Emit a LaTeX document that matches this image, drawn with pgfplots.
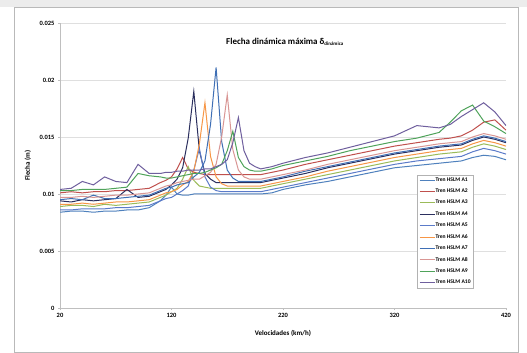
\documentclass[border=0pt]{standalone}
\usepackage{fontspec}
\setmainfont{Carlito}
\usepackage{pgfplots}
\usepackage{pgfplotstable}
\pgfplotsset{compat=1.18}
\definecolor{cA1}{HTML}{4F81BD}
\definecolor{cA2}{HTML}{C0504D}
\definecolor{cA3}{HTML}{9BBB59}
\definecolor{cA4}{HTML}{2B2F5E}
\definecolor{cA5}{HTML}{5B7BC9}
\definecolor{cA6}{HTML}{F79646}
\definecolor{cA7}{HTML}{3F6FB5}
\definecolor{cA8}{HTML}{D99694}
\definecolor{cA9}{HTML}{4FA35A}
\definecolor{cA10}{HTML}{6F5F9E}
\pgfplotstableread{
v A1 A2 A3 A4 A5 A6 A7 A8 A9 A10
20 0.0084 0.0101 0.0089 0.0094 0.0086 0.0091 0.0095 0.0097 0.0103 0.0104
30 0.0085 0.0102 0.0090 0.0093 0.0086 0.0091 0.0096 0.0097 0.0103 0.0105
40 0.0085 0.0101 0.0090 0.0095 0.0087 0.0092 0.0095 0.0098 0.0104 0.0111
50 0.0084 0.0102 0.0089 0.0094 0.0087 0.0091 0.0099 0.0097 0.0104 0.0108
60 0.0085 0.0102 0.0091 0.0095 0.0087 0.0092 0.0096 0.0098 0.0104 0.0115
70 0.0085 0.0103 0.0090 0.0096 0.0088 0.0093 0.0096 0.0099 0.0105 0.0111
80 0.0086 0.0103 0.0091 0.0104 0.0088 0.0093 0.0097 0.0099 0.0106 0.0110
90 0.0086 0.0104 0.0092 0.0097 0.0089 0.0094 0.0098 0.0100 0.0118 0.0126
100 0.0088 0.0105 0.0093 0.0098 0.0090 0.0095 0.0099 0.0101 0.0116 0.0118
110 0.0094 0.0110 0.0097 0.0102 0.0094 0.0099 0.0103 0.0105 0.0115 0.0118
115 0.0099 0.0112 0.0099 0.0104 0.0096 0.0101 0.0105 0.0107 0.0114 0.0119
120 0.0106 0.0115 0.0102 0.0108 0.0097 0.0102 0.0106 0.0108 0.0114 0.0119
125 0.0100 0.0122 0.0105 0.0113 0.0100 0.0104 0.0108 0.0110 0.0115 0.0120
130 0.0099 0.0132 0.0113 0.0123 0.0103 0.0108 0.0109 0.0111 0.0116 0.0120
135 0.0099 0.0122 0.0124 0.0149 0.0107 0.0111 0.0110 0.0112 0.0117 0.0121
140 0.0100 0.0119 0.0112 0.0190 0.0121 0.0120 0.0115 0.0113 0.0118 0.0121
145 0.0100 0.0118 0.0107 0.0138 0.0140 0.0144 0.0119 0.0113 0.0118 0.0121
150 0.0100 0.0117 0.0106 0.0118 0.0115 0.0180 0.0129 0.0116 0.0119 0.0122
155 0.0100 0.0117 0.0105 0.0113 0.0106 0.0133 0.0161 0.0119 0.0121 0.0122
160 0.0100 0.0117 0.0105 0.0110 0.0103 0.0115 0.0211 0.0126 0.0123 0.0124
165 0.0100 0.0117 0.0105 0.0110 0.0102 0.0109 0.0146 0.0150 0.0126 0.0126
170 0.0100 0.0117 0.0105 0.0110 0.0102 0.0107 0.0121 0.0187 0.0138 0.0130
175 0.0100 0.0117 0.0105 0.0110 0.0102 0.0107 0.0114 0.0139 0.0155 0.0145
180 0.0100 0.0117 0.0105 0.0110 0.0102 0.0107 0.0111 0.0121 0.0132 0.0167
185 0.0100 0.0117 0.0105 0.0110 0.0102 0.0107 0.0111 0.0115 0.0124 0.0138
190 0.0100 0.0117 0.0105 0.0110 0.0102 0.0107 0.0111 0.0113 0.0121 0.0127
195 0.0100 0.0117 0.0105 0.0110 0.0102 0.0107 0.0111 0.0113 0.0120 0.0124
200 0.0100 0.0117 0.0105 0.0110 0.0102 0.0107 0.0111 0.0113 0.0120 0.0122
210 0.0101 0.0119 0.0107 0.0112 0.0104 0.0109 0.0113 0.0115 0.0122 0.0124
220 0.0104 0.0121 0.0109 0.0114 0.0106 0.0111 0.0115 0.0117 0.0125 0.0127
240 0.0108 0.0126 0.0113 0.0118 0.0110 0.0115 0.0120 0.0121 0.0129 0.0132
260 0.0111 0.0130 0.0117 0.0123 0.0114 0.0120 0.0124 0.0126 0.0133 0.0136
280 0.0115 0.0134 0.0121 0.0127 0.0118 0.0124 0.0128 0.0130 0.0138 0.0141
300 0.0119 0.0138 0.0125 0.0131 0.0122 0.0128 0.0132 0.0134 0.0142 0.0146
320 0.0123 0.0142 0.0129 0.0135 0.0126 0.0132 0.0136 0.0138 0.0146 0.0151
340 0.0125 0.0145 0.0132 0.0138 0.0129 0.0135 0.0139 0.0141 0.0149 0.0160
360 0.0127 0.0148 0.0135 0.0141 0.0131 0.0138 0.0142 0.0144 0.0154 0.0158
370 0.0128 0.0149 0.0136 0.0142 0.0132 0.0139 0.0143 0.0145 0.0163 0.0161
380 0.0129 0.0151 0.0137 0.0143 0.0133 0.0140 0.0144 0.0146 0.0173 0.0168
390 0.0132 0.0156 0.0141 0.0147 0.0137 0.0144 0.0148 0.0150 0.0178 0.0174
400 0.0134 0.0163 0.0144 0.0150 0.0140 0.0147 0.0151 0.0153 0.0164 0.0180
410 0.0133 0.0165 0.0142 0.0148 0.0138 0.0145 0.0149 0.0151 0.0159 0.0172
420 0.0130 0.0156 0.0139 0.0145 0.0135 0.0142 0.0146 0.0148 0.0153 0.0160
}\data
\begin{document}
\begin{tikzpicture}
\path[use as bounding box] (0,0) rectangle (527bp,353bp);
\fill[white] (0,0) rectangle (527bp,353bp);
\fill[gray!15] (0,346bp) rectangle (527bp,353bp);
\draw[gray!55, line width=0.8bp] (14bp,1bp) rectangle (518bp,346bp);
\begin{axis}[
  at={(60bp,45bp)}, anchor=south west,
  scale only axis, width=446bp, height=285bp,
  xmin=20, xmax=420, ymin=0, ymax=0.025,
  scaled y ticks=false, scaled x ticks=false,
  axis lines*=left,
  axis line style={draw=gray!50, line width=0.8bp},
  xtick={20,120,220,320,420},
  xticklabels={20,120,220,320,420},
  ytick={0,0.005,0.01,0.015,0.02,0.025},
  yticklabels={0,0.005,0.01,0.015,0.02,0.025},
  tick label style={font=\fontsize{6.5}{7}\selectfont\bfseries},
  major tick length=2bp,
  tick style={gray!50},
  tick align=outside,
  ymajorgrids,
  grid style={gray!25, line width=0.9bp},
  xlabel={\bfseries Velocidades (km/h)},
  ylabel={\bfseries Flecha (m)},
  label style={font=\fontsize{7}{8}\selectfont},
  xlabel style={at={(axis description cs:0.5,0)}, anchor=center, yshift=-25bp},
  ylabel style={at={(axis description cs:-0.072,0.5)}, anchor=center},
  legend style={at={(0.80,0.467)}, anchor=north west, draw=gray!60, fill=white,
    font=\fontsize{5.6}{6}\selectfont\bfseries, row sep=5.2bp, inner sep=2bp,
    nodes={inner sep=0.5bp}},
  legend cell align=left,
  legend image code/.code={\draw[#1, line width=1bp] (0bp,0bp) -- (15bp,0bp);},
  every axis plot/.append style={line width=1bp},
]
\addplot[cA1] table[x=v,y=A1]{\data}; \addlegendentry{Tren HSLM A1}
\addplot[cA2] table[x=v,y=A2]{\data}; \addlegendentry{Tren HSLM A2}
\addplot[cA3] table[x=v,y=A3]{\data}; \addlegendentry{Tren HSLM A3}
\addplot[cA4] table[x=v,y=A4]{\data}; \addlegendentry{Tren HSLM A4}
\addplot[cA5] table[x=v,y=A5]{\data}; \addlegendentry{Tren HSLM A5}
\addplot[cA6] table[x=v,y=A6]{\data}; \addlegendentry{Tren HSLM A6}
\addplot[cA7] table[x=v,y=A7]{\data}; \addlegendentry{Tren HSLM A7}
\addplot[cA8] table[x=v,y=A8]{\data}; \addlegendentry{Tren HSLM A8}
\addplot[cA9] table[x=v,y=A9]{\data}; \addlegendentry{Tren HSLM A9}
\addplot[cA10] table[x=v,y=A10]{\data}; \addlegendentry{Tren HSLM A10}
\end{axis}
\node[font=\fontsize{9}{10}\selectfont\bfseries] at (285bp,311bp) {Flecha dinámica máxima δ\textsubscript{\fontsize{5}{5}\selectfont dinámica}};
\end{tikzpicture}
\end{document}
